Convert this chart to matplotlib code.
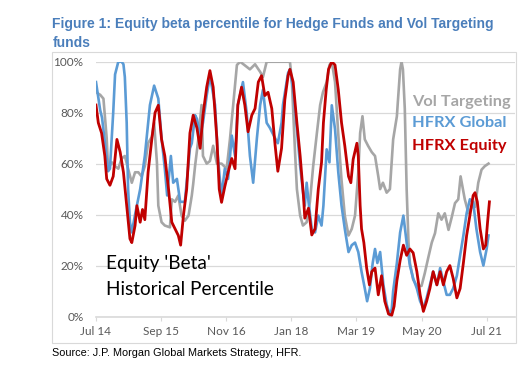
import matplotlib
matplotlib.use('Agg')
import matplotlib.pyplot as plt
from matplotlib import font_manager as fm
from matplotlib.patches import Rectangle

# --- Data (months since Jul 2014, percentile %) ---
vol_m = [0.0, 0.9, 1.6, 2.3, 2.6, 3.4, 4.1, 4.8, 5.5, 6.2, 6.9, 7.7, 8.4, 9.1, 9.8, 10.5,
         11.2, 12.0, 12.5, 13.1, 13.4, 14.1, 14.8, 15.9, 16.3, 17.0, 17.7, 18.4, 19.1, 19.9,
         20.6, 20.9, 21.3, 22.0, 22.7, 23.0, 23.8, 24.5, 25.2, 26.0, 27.0, 28.1, 28.8, 29.5,
         30.3, 31.0, 33.1, 34.2, 35.3, 35.9, 36.7, 41.7, 42.1, 42.8, 43.2, 43.9, 44.5, 45.3,
         46.0, 46.7, 47.5, 48.2, 48.8, 49.6, 50.2, 50.7, 51.4, 52.1, 52.8, 53.5, 54.3, 55.0,
         55.7, 56.4, 56.8, 57.3, 57.8, 58.5, 59.3, 60.0, 60.7, 61.1, 61.7, 62.5, 63.2, 63.9,
         64.7, 64.9, 65.4, 65.7, 66.0, 66.4, 66.8, 67.2, 67.5, 68.2, 69.0, 70.0, 70.7, 71.5,
         72.2, 72.9, 73.6, 74.3, 75.0, 75.8, 76.5, 77.2, 77.9, 78.4, 78.8, 79.3, 80.1, 80.8,
         81.5, 82.2, 82.9, 83.6, 84.4]
vol_v = [88, 87, 85.5, 70, 58, 60.5, 59, 58, 62, 63, 58, 52.5, 56.6, 56.6, 55, 59,
         68, 70.5, 76, 60.5, 43.5, 37, 35.7, 35, 46, 45, 47.5, 39.6, 37.6, 39.6,
         47.5, 52, 59, 69.5, 83, 63, 60, 61, 67, 60, 60, 58, 69.5, 83,
         98.7, 100, 97, 99, 96, 94, 100, 100, 93, 64.5, 50, 39.6, 35.7, 37,
         45, 59, 72, 83, 88, 92, 98.7, 100, 92, 71.5, 53.5, 39.6, 31.8, 34.4,
         39.6, 56.6, 72, 78.6, 69.5, 67, 64.5, 63, 55, 50, 52.5, 48.6, 50, 69.5,
         78.6, 84, 97, 100, 97, 81.6, 50, 29, 21, 14.5, 12, 12, 17, 23.5,
         29, 32.7, 40.5, 38, 40.5, 34, 39, 44.5, 46, 55, 51, 46, 40.5, 43,
         43, 52.5, 57.6, 59, 60]

glob_m = [0.0, 0.9, 1.3, 2.3, 2.6, 3.0, 3.7, 4.1, 4.8, 5.5, 5.9, 6.2, 6.6, 6.9, 7.3, 7.7,
          8.4, 9.5, 10.5, 11.6, 12.5, 13.4, 14.1, 14.8, 15.3, 16.1, 16.6, 17.4, 18.1, 19.1,
          20.2, 20.6, 21.3, 21.7, 22.4, 23.0, 23.8, 24.5, 25.6, 26.2, 26.7, 27.0, 27.7, 28.4,
          29.2, 29.9, 30.5, 31.6, 32.4, 33.1, 33.8, 34.6, 35.3, 35.9, 36.7, 37.4, 38.5, 39.1,
          39.9, 40.2, 41.3, 41.7, 42.4, 43.2, 43.9, 44.6, 44.9, 45.3, 45.7, 46.4, 47.1, 47.8,
          48.5, 48.9, 49.6, 50.2, 50.7, 51.4, 52.1, 52.8, 53.5, 54.3, 55.0, 55.7, 56.4, 57.1,
          57.8, 58.3, 58.9, 59.5, 60.0, 60.5, 61.1, 61.8, 62.5, 63.2, 63.6, 63.9, 64.7, 65.4,
          66.1, 66.8, 67.5, 68.2, 69.0, 69.7, 70.4, 71.1, 71.8, 72.5, 73.3, 74.0, 74.7, 75.4,
          76.1, 76.8, 77.6, 78.3, 79.0, 79.7, 80.4, 81.1, 81.8, 82.6, 83.3, 84.0, 84.4]
glob_v = [92, 81, 78, 62, 57, 58, 80, 95, 100, 100, 99, 94, 76, 50, 37, 33,
          40, 50, 63, 83, 90.6, 85.5, 70, 58, 47.5, 63, 52.5, 54, 45, 45,
          66, 68, 79, 77.6, 71, 76, 86.7, 94.5, 83, 63, 52.5, 47.5, 58, 54,
          71, 63, 83, 92, 80, 63, 52.5, 70, 83, 89, 76, 74, 70, 68,
          76, 83, 95.6, 97, 89, 73.5, 59, 47.5, 43.5, 52.5, 45, 34.4, 33, 39.6,
          35.7, 43.5, 65.6, 60.5, 82.9, 73.5, 56.6, 43.5, 34.4, 25.3, 28, 29, 25.3, 17.6,
          11, 6, 11, 21, 26.5, 21, 25.3, 12.4, 4.7, 0.5, 3, 10, 21, 33,
          39.6, 29, 20, 15, 11, 6, 3.3, 7.3, 12.4, 17.6, 12.4, 19, 13.7, 8.5,
          8.5, 11, 16, 24, 31.8, 40.5, 46, 45, 34.4, 25.3, 20, 26.5, 31.8]

eq_m = [0.0, 0.5, 1.2, 1.9, 2.3, 3.0, 3.7, 4.5, 5.2, 5.9, 6.6, 7.3, 7.7, 8.4, 8.8, 9.5,
        10.0, 10.5, 11.2, 12.0, 12.7, 13.4, 14.1, 14.8, 15.6, 16.3, 17.0, 17.7, 18.2, 18.8,
        19.5, 20.2, 20.9, 21.7, 22.4, 23.0, 23.8, 24.5, 25.2, 26.0, 26.5, 27.0, 27.7, 28.4,
        29.2, 29.9, 30.5, 31.3, 32.0, 32.7, 33.5, 34.2, 34.9, 35.6, 36.3, 37.0, 37.8, 38.5,
        39.1, 39.9, 40.6, 41.3, 41.7, 42.4, 43.2, 43.9, 44.6, 44.9, 45.7, 46.4, 47.1, 47.8,
        48.5, 48.9, 49.5, 50.0, 50.7, 51.4, 52.1, 52.8, 53.5, 54.3, 54.8, 55.3, 56.1, 56.4,
        56.8, 57.1, 57.6, 58.2, 58.8, 59.3, 60.0, 60.7, 61.4, 62.1, 62.9, 63.6, 64.1, 64.7,
        65.4, 66.1, 66.8, 67.5, 68.2, 69.0, 69.7, 70.4, 71.1, 71.8, 72.5, 73.3, 74.0, 74.7,
        75.4, 76.1, 76.8, 77.6, 78.3, 79.0, 79.7, 80.4, 81.1, 81.5, 82.0, 82.6, 83.3, 83.8,
        84.2, 84.6]
eq_v = [83, 76, 72, 63, 54, 51.5, 55, 69.5, 64.5, 56.6, 43.5, 30.5, 29, 35.7, 43.5, 37,
        42, 38, 56.6, 69.5, 80, 82.9, 69.5, 63, 50, 37, 34.4, 31.8, 28, 39.6,
        50, 72, 79, 74, 66, 79, 90, 96.5, 90, 69.5, 50, 44.8, 51, 56.6,
        62, 58, 83, 90, 83, 72.5, 79, 81.6, 92, 94.5, 86.7, 88, 81.6, 67.5,
        57, 66, 85, 94.5, 97, 92, 76, 63, 47.5, 38.6, 42.5, 32, 34.4, 50,
        60.5, 76, 89, 97, 100, 98.7, 89, 76, 67, 55, 52.5, 61.7, 68, 63,
        43.5, 34.4, 29, 19, 12.4, 17.6, 19, 8.5, 16, 6, 1, 0.5, 4, 14,
        22, 28, 24, 26.5, 25, 17.6, 8.5, 2, 6, 11, 17.6, 12.4, 17.6, 12.4,
        17.6, 20, 15, 7.3, 11, 21, 31.8, 39.6, 47.5, 48.6, 45, 34.4, 26.5, 28,
        37, 45]

tick_months = [0, 14, 28, 42, 56, 70, 84]
tick_labels = ["Jul 14", "Sep 15", "Nov 16", "Jan 18", "Mar 19", "May 20", "Jul 21"]
y_ticks = [0, 20, 40, 60, 80, 100]

GREY = "#A6A6A6"
BLUE = "#5B9BD5"
RED = "#C00000"
TITLE_BLUE = "#4A7EBB"


def pick(*names):
    for n in names:
        try:
            fm.findfont(fm.FontProperties(family=n), fallback_to_default=False)
            return n
        except Exception:
            pass
    return "DejaVu Sans"


TITLE_FONT = pick("Liberation Sans Narrow", "Liberation Sans")
SRC_FONT = pick("Liberation Sans")
CHART_FONT = pick("Lato", "Open Sans")

fig = plt.figure(figsize=(5.29, 3.89), dpi=100)
W, H = 529, 389
ax = fig.add_axes([96 / W, 1 - 316.5 / H, (515 - 96) / W, (316.5 - 61.7) / H])

ax.plot(vol_m, vol_v, color=GREY, lw=1.9, zorder=3, solid_joinstyle="round")
ax.plot(glob_m, glob_v, color=BLUE, lw=1.9, zorder=4, solid_joinstyle="round")
ax.plot(eq_m, eq_v, color=RED, lw=2.0, zorder=5, solid_joinstyle="round")

ax.set_xlim(0, 90.1)
ax.set_ylim(0, 100)
ax.set_yticks(y_ticks)
ax.set_yticklabels([f"{v}%" for v in y_ticks])
ax.set_xticks(tick_months)
ax.set_xticklabels(tick_labels)
ax.grid(axis="y", color="#D9D9D9", lw=0.9, zorder=0)
for s in ["top", "right", "left"]:
    ax.spines[s].set_visible(False)
ax.spines["bottom"].set_color("#D9D9D9")
ax.spines["bottom"].set_linewidth(1.2)
ax.tick_params(axis="y", length=0, pad=9, labelsize=8.5, labelcolor="#595959")
ax.tick_params(axis="x", length=3, color="#D9D9D9", pad=4, labelsize=8.5, labelcolor="#595959")
for lab in ax.get_xticklabels() + ax.get_yticklabels():
    lab.set_fontfamily(CHART_FONT)

# in-chart labels
leg = []
for txt, col, yy in [("Vol Targeting", GREY, 0.841), ("HFRX Global", BLUE, 0.758),
                     ("HFRX Equity", RED, 0.671)]:
    leg.append(ax.text(0.755, yy, txt, transform=ax.transAxes, color=col, fontsize=12,
                       fontweight="bold", family=CHART_FONT, va="center", ha="left", zorder=6))
ann1 = ax.text(0.024, 0.209, "Equity 'Beta'", transform=ax.transAxes, fontsize=14,
               family=CHART_FONT, va="center", ha="left", color="black", zorder=6)
ann2 = ax.text(0.024, 0.107, "Historical Percentile", transform=ax.transAxes, fontsize=14,
               family=CHART_FONT, va="center", ha="left", color="black", zorder=6)

# title, source, border
t1 = fig.text(52.5 / W, 1 - 28.3 / H, "Figure 1: Equity beta percentile for Hedge Funds and Vol Targeting",
              fontsize=11, fontweight="bold", color=TITLE_BLUE, family=TITLE_FONT, va="baseline")
t2 = fig.text(52.5 / W, 1 - 46.7 / H, "funds",
              fontsize=11, fontweight="bold", color=TITLE_BLUE, family=TITLE_FONT, va="baseline")
src = fig.text(52.5 / W, 1 - 356 / H, "Source: J.P. Morgan Global Markets Strategy, HFR.",
               fontsize=8, color="black", family=SRC_FONT, va="baseline")
fig.patches.append(Rectangle((52 / W, 1 - 343 / H), (516 - 52) / W, (343 - 52) / H,
                             transform=fig.transFigure, fill=False, ec="#D9D9D9", lw=0.8))

# size texts to the widths measured on the reference
fig.canvas.draw()
r = fig.canvas.get_renderer()


def fit(t, width_px):
    bb = t.get_window_extent(renderer=r)
    t.set_fontsize(t.get_fontsize() * width_px / bb.width)
    return t.get_fontsize()


size = fit(t1, 442)
t2.set_fontsize(size)
fit(src, 250)
lsize = fit(leg[0], 98)
for t in leg[1:]:
    t.set_fontsize(lsize)
asize = fit(ann2, 169)
ann1.set_fontsize(asize)

fig.savefig("out.png", dpi=100)
